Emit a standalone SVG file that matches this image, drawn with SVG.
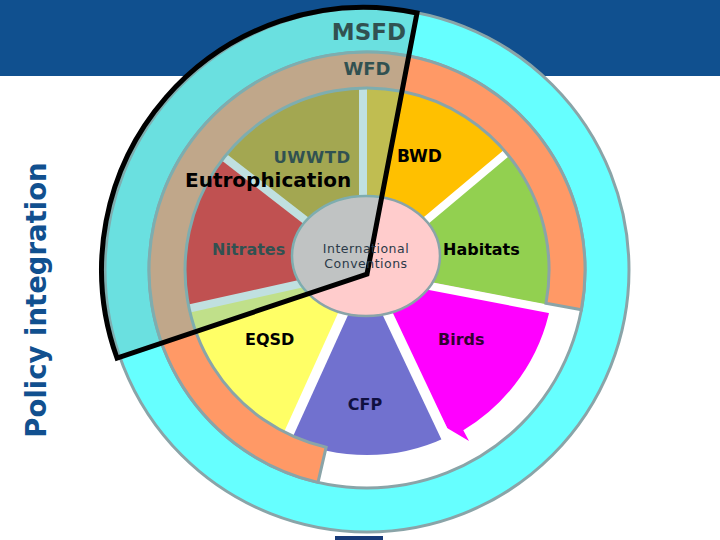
<svg xmlns="http://www.w3.org/2000/svg" width="720" height="540" viewBox="0 0 720 540">
  <style>
    .ring { stroke: #8aa4a8; stroke-width: 3; }
    .gap { stroke: #ffffff; fill: none; stroke-linecap: butt; }
    .lbl { font-family: "DejaVu Sans", Verdana, sans-serif; font-weight: bold; }
    .conv { font-family: "DejaVu Sans", Verdana, sans-serif; font-size: 12.5px; letter-spacing: 0.5px; fill: #2b3a48; text-anchor: middle; }
  </style>
  <rect id="header" x="0" y="0" width="720" height="76" fill="#10508f"/>
  <rect id="footer-tab" x="335" y="536" width="48" height="4" fill="#173a78"/>
  <text id="policy-integration" class="lbl" font-size="27.5" fill="#11508f" text-anchor="middle" transform="translate(46,300) rotate(-90)">Policy integration</text>

  <g id="outer-ring">
    <circle cx="367" cy="270" r="262" fill="#66ffff" class="ring"/>
    <circle cx="367" cy="270" r="218" fill="#ffffff" class="ring"/>
  </g>

  <g id="slices">
    <g id="uwwtd"><path d="M367 270 L222 156.7 A184 184 0 0 1 367 86 Z" fill="#cc9900"/></g>
    <g id="bwd"><path d="M367 270 L367 86 A184 184 0 0 1 508 151.7 Z" fill="#ffc000"/></g>
    <g id="habitats"><path d="M367 270 L508 151.7 A184 184 0 0 1 547.6 305.1 Z" fill="#92d050"/></g>
    <g id="birds"><path d="M367 270 L550.6 305.7 A187 187 0 0 1 463.3 430.3 L469 441 L447 428 Z" fill="#ff00ff"/></g>
    <g id="cfp"><path d="M367 270 L445.2 437.7 A185 185 0 0 1 288.8 437.7 Z" fill="#7171cf"/></g>
    <g id="eqsd"><path d="M367 270 L289.2 436.8 A184 184 0 0 1 187 308.3 Z" fill="#ffff66"/></g>
    <g id="nitrates"><path d="M367 270 L187 308.3 A184 184 0 0 1 222 156.7 Z" fill="#ff0000"/></g>
  </g>

  <g id="connectors">
    <line class="gap" x1="367" y1="268" x2="220" y2="154" stroke-width="8"/>
    <line class="gap" x1="363" y1="270" x2="363" y2="84" stroke-width="8"/>
    <line class="gap" x1="367" y1="270" x2="510" y2="150" stroke-width="8"/>
    <line class="gap" x1="367" y1="274" x2="565" y2="312" stroke-width="8"/>
    <line class="gap" x1="367" y1="270" x2="452" y2="450" stroke-width="10"/>
    <line class="gap" x1="363" y1="270" x2="285" y2="442" stroke-width="10"/>
    <line class="gap" x1="367" y1="269" x2="178" y2="311" stroke-width="8"/>
  </g>

  <g id="wfd-ring">
    <path d="M326.1 447.3 L318 482.4 A218 218 0 1 1 581.4 309.7 L546 303.2 A182 182 0 1 0 326.1 447.3 Z" fill="#ff9966" class="ring"/>
  </g>

  <g id="international-conventions">
    <ellipse cx="366" cy="256" rx="74" ry="60" fill="#ffcccc" stroke="#8aa4a8" stroke-width="2.5"/>
  </g>

  <g id="labels-under">
    <text class="lbl" font-size="23" x="369" y="40" text-anchor="middle" fill="#000">MSFD</text>
    <text class="lbl" font-size="18" x="367" y="75" text-anchor="middle" fill="#000">WFD</text>
    <text class="lbl" font-size="16.5" x="312" y="163" text-anchor="middle" fill="#000" letter-spacing="0.5">UWWTD</text>
    <text class="lbl" font-size="16" x="212" y="255" fill="#000">Nitrates</text>
  </g>

  <g id="msfd">
    <path d="M367 274 L417 13 A262 262 0 0 0 117 358 Z" fill="rgb(111,184,184)" fill-opacity="0.44"/>
    <path d="M367 274 L417 13 A262 262 0 0 0 117 358 Z" fill="none" stroke="#000" stroke-width="5" stroke-linejoin="miter"/>
  </g>

  <g id="labels">
    <text class="lbl" font-size="20" x="185" y="187" fill="#000">Eutrophication</text>
    <text class="lbl" font-size="17" x="397" y="162" fill="#000">BWD</text>
    <text class="lbl" font-size="16" x="443" y="255" fill="#000">Habitats</text>
    <text class="lbl" font-size="16" x="245" y="345" fill="#000">EQSD</text>
    <text class="lbl" font-size="16" x="438" y="345" fill="#330033">Birds</text>
    <text class="lbl" font-size="16" x="365" y="410" text-anchor="middle" fill="#101040">CFP</text>
    <text class="conv" x="366" y="253">International</text>
    <text class="conv" x="366" y="268">Conventions</text>
  </g>
</svg>
